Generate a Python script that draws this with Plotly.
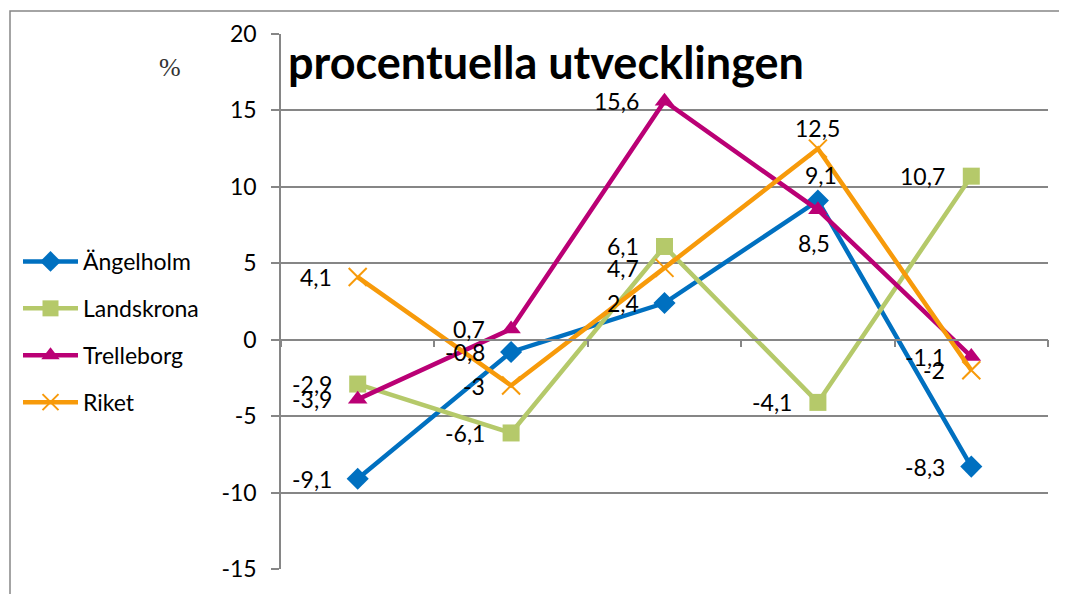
import plotly.graph_objects as go

categories = ["1", "2", "3", "4", "5"]
angelholm = [-9.1, -0.8, 2.4, 9.1, -8.3]
landskrona = [-2.9, -6.1, 6.1, -4.1, 10.7]
trelleborg = [-3.9, 0.7, 15.6, 8.5, -1.1]
riket = [4.1, -3, 4.7, 12.5, -2]
y_ticks = [-15, -10, -5, 0, 5, 10, 15, 20]

names = ["Ängelholm", "Landskrona", "Trelleborg", "Riket"]
colors = ["#0070C0", "#B5C96A", "#BA0075", "#F79A0A"]
symbols = ["diamond", "square", "triangle-up", "x-thin"]
# label placement per point: "l" = left of the point, or (xshift, yshift) above/below
LEFT = "l"
label_pos = [
    [LEFT, LEFT, LEFT, (3, 26), LEFT],
    [LEFT, LEFT, LEFT, LEFT, LEFT],
    [LEFT, LEFT, LEFT, (-4, -33), LEFT],
    [LEFT, LEFT, LEFT, (0, 21), LEFT],
]

FONT = "Lato"
FS = 23
# the page body adds 8px on the left and top, so margins are 8px smaller
L, T = 273, 26
W, H = 767, 535
FW, FH = 1059, 586


def fmt(v):
    return f"{v:g}".replace(".", ",")


fig = go.Figure()
labels = []
for i, ys in enumerate([angelholm, landskrona, trelleborg, riket]):
    mk = dict(symbol=symbols[i], size=17, color=colors[i])
    if symbols[i] == "x-thin":
        mk = dict(symbol="x-thin", size=18, color=colors[i],
                  line=dict(color=colors[i], width=2))
    fig.add_trace(go.Scatter(
        x=categories, y=ys, name=names[i], mode="lines+markers",
        line=dict(color=colors[i], width=4.5), marker=mk,
        legendgroup=names[i], cliponaxis=False,
    ))
    for j, v in enumerate(ys):
        p = label_pos[i][j]
        # annotations on a category axis take the category index
        a = dict(x=j, y=v, text=fmt(v), showarrow=False,
                 font=dict(family=FONT, size=FS, color="black"))
        if p == LEFT:
            a.update(xanchor="right", yanchor="middle", xshift=-24)
        else:
            a.update(xanchor="center", yanchor="middle", xshift=p[0], yshift=p[1])
        labels.append(a)

fig.update_layout(
    width=FW, height=FH,
    margin=dict(l=L, r=FW - L - W, t=T, b=FH - T - H, autoexpand=False),
    paper_bgcolor="white", plot_bgcolor="white",
    font=dict(family=FONT, size=FS, color="black"),
    showlegend=True,
    legend=dict(xref="container", yref="container",
                x=10 / FW, y=1 - 232 / FH, xanchor="left", yanchor="top",
                tracegroupgap=14, itemwidth=55, bgcolor="rgba(0,0,0,0)",
                font=dict(family=FONT, size=FS, color="black")),
    xaxis=dict(type="category", showticklabels=False, showgrid=False,
               tickson="boundaries", ticks="outside", ticklen=7,
               tickcolor="#868686", tickwidth=1.5,
               showline=True, linecolor="#868686", linewidth=1.5,
               anchor="free", position=15 / 35, range=[-0.5, 4.5]),
    yaxis=dict(range=[-15, 20], tickvals=y_ticks,
               ticktext=[str(t) for t in y_ticks],
               showgrid=True, gridcolor="#868686",
               gridwidth=1.5, zeroline=False, showline=True,
               linecolor="#868686", linewidth=1.5, ticks="outside",
               ticklen=8, tickcolor="#868686", tickwidth=1.5, ticklabelstandoff=10,
               tickfont=dict(family=FONT, size=FS, color="black")),
    shapes=[dict(type="rect", xref="paper", yref="paper",
                 x0=(10 - 281) / W, x1=1.2, y0=-0.3, y1=(569 - 11) / H,
                 line=dict(color="#868686", width=1.5), layer="below")],
    annotations=labels + [
        dict(text="<b>procentuella utvecklingen</b>", xref="paper", yref="paper",
             x=(286 - 281) / W, y=(569 - 62) / H, xanchor="left",
             yanchor="middle", showarrow=False,
             font=dict(family=FONT, size=45, color="black")),
        dict(text="%", xref="paper", yref="paper", x=(170 - 281) / W,
             y=(569 - 68) / H, xanchor="center", yanchor="middle",
             showarrow=False,
             font=dict(family="Liberation Serif", size=26, color="#333333")),
    ],
)

fig.write_html("out.html")
